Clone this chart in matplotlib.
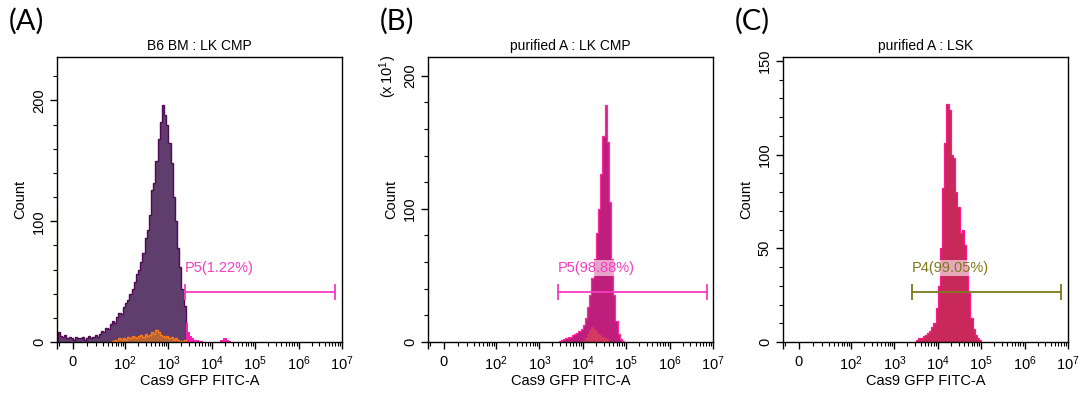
import matplotlib
matplotlib.use("Agg")
import matplotlib.pyplot as plt
import numpy as np

plt.rcParams['font.family'] = ['Liberation Sans', 'DejaVu Sans']
plt.rcParams['mathtext.fontset'] = 'custom'
plt.rcParams['mathtext.rm'] = 'Liberation Sans'

# histogram bins: start position (in decades on the biexponential axis), fixed step
STEP = 0.05

# panel A - B6 BM : LK CMP
a_main_start = 0.45
a_main = [8, 5, 4, 6, 3, 4, 3, 2, 4, 3, 3, 4, 2, 3, 5, 3, 4, 6, 4, 7,
          9, 8, 12, 11, 15, 17, 16, 21, 24, 23, 29, 32, 35, 40, 44, 50, 56, 60, 66, 74,
          86, 93, 105, 126, 132, 150, 168, 182, 196, 188, 180, 165, 148, 120, 100, 78, 62, 44, 30]
a_gate_start = 3.40
a_gate = [16, 8, 5, 3, 2, 2, 1, 1, 0, 0, 0, 0, 0, 0, 0, 0, 2, 3, 3, 2, 1]
a_orange_start = 1.70
a_orange = [1, 2, 1, 3, 2, 3, 2, 4, 3, 5, 4, 3, 5, 6, 4, 7, 5, 6, 8, 7,
            10, 8, 6, 5, 4, 5, 3, 4, 2, 3, 2, 1, 1, 2]
a_spike = 112

# panel B - purified A : LK CMP (counts x10)
b_main_start = 3.45
b_main = [1, 1.5, 2, 3, 3.5, 4, 5, 6, 7, 8, 10, 13, 18, 26, 35, 48, 62, 82, 100, 126,
          155, 178, 150, 105, 62, 35, 16, 6, 2, 0.5]
b_red_start = 4.00
b_red = [1, 3, 6, 9, 11, 10, 8, 6, 5, 4, 3, 2]

# panel C - purified A : LSK
c_main_start = 3.50
c_main = [1, 2, 2, 3, 4, 5, 6, 8, 10, 18, 30, 50, 82, 106, 127, 124, 100, 98, 80, 72,
          58, 60, 52, 40, 26, 13, 7, 4, 2, 1]

gates = {
    'A': ('P5(1.22%)', 3.38, 6.84, 41, '#f53cc0'),
    'B': ('P5(98.88%)', 3.43, 6.86, 37.6, '#f53cc0'),
    'C': ('P4(99.05%)', 3.41, 6.84, 26.7, '#7d7a1e'),
}
titles = {'A': 'B6 BM : LK CMP', 'B': 'purified A : LK CMP', 'C': 'purified A : LSK'}
ylims = {'A': (236, 100, 20), 'B': (214, 100, 20), 'C': (152, 50, 10)}

# biexponential-like display transform
W = 6.3
def fwd(v):
    return np.arcsinh(np.asarray(v, float) / (2 * W)) / np.log(10) + np.log10(W)

def inv(u):
    return 2 * W * np.sinh((np.asarray(u, float) - np.log10(W)) * np.log(10))

def edges(start, n):
    return inv(start + STEP * np.arange(n + 1))

XMIN = float(inv(0.433))
XMAX = 1e7

fig = plt.figure(figsize=(10.81, 3.94), dpi=100)
lefts = {'A': 57, 'B': 428, 'C': 783}
axes = {}
for key, left in lefts.items():
    ax = fig.add_axes([left / 1081, 1 - 342 / 394, 285 / 1081, 285 / 394])
    axes[key] = ax
    ax.set_xscale('function', functions=(fwd, inv))
    ax.set_xlim(XMIN, XMAX)
    ymax, major, minor = ylims[key]
    ax.set_ylim(0, ymax)
    ax.set_yticks(np.arange(0, ymax, major))
    ax.set_yticks(np.arange(0, ymax, minor), minor=True)
    ax.set_yticklabels([str(int(t)) for t in np.arange(0, ymax, major)], rotation=90, va='center')
    ticks = [XMIN, 0] + [10.0 ** k for k in range(2, 8)]
    labels = ['', '0'] + [r'$\mathregular{10^{%d}}$' % k for k in range(2, 8)]
    ax.set_xticks(ticks)
    ax.set_xticklabels(labels)
    minors = [-10] + list(range(10, 100, 10))
    for k in range(2, 7):
        minors += [m * 10.0 ** k for m in range(2, 10)]
    ax.set_xticks(minors, minor=True)
    ax.tick_params(axis='both', which='major', direction='out', length=5, width=1,
                   labelsize=10.5, pad=4)
    ax.tick_params(axis='both', which='minor', direction='out', length=3, width=0.8)
    ax.tick_params(axis='y', pad=3)
    ax.set_xlabel('Cas9 GFP FITC-A', fontsize=10.5, labelpad=1)
    ax.set_ylabel('Count', fontsize=10.5, labelpad=3)
    ax.set_title(titles[key], fontsize=10, pad=5)
    for s in ax.spines.values():
        s.set_linewidth(1)
    fig.text((left - 48) / 1081, 1 - 21 / 394, '(%s)' % key, fontsize=21,
             family='Lato', va='center', ha='left')

# panel A histograms
ax = axes['A']
e = edges(a_main_start, len(a_main))
ax.stairs(a_main, e, fill=True, color='#5f3d6d')
ax.stairs(a_main, e, color='#4e0a52', lw=1)
e = edges(a_gate_start, len(a_gate))
ax.stairs(a_gate, e, fill=True, color='#ff1fb4')
e = edges(a_orange_start, len(a_orange))
ax.stairs(a_orange, e, fill=True, color='#c26a2c', alpha=0.9)
ax.stairs(a_orange, e, color='#ff7a14', lw=1)
ax.vlines(XMIN, 0, a_spike, color='#ff7a14', lw=1.5)

# panel B histograms
ax = axes['B']
e = edges(b_main_start, len(b_main))
ax.stairs(b_main, e, fill=True, color='#bf1f7c')
ax.stairs(b_main, e, color='#ff2a9e', lw=0.9)
e = edges(b_red_start, len(b_red))
ax.stairs(b_red, e, fill=True, color='#d8405a', alpha=0.85)
ax.text(-0.14, 0.93, r'$\mathregular{(x\,10^{1})}$', transform=ax.transAxes, rotation=90,
        fontsize=10.5, ha='center', va='center')

# panel C histogram
ax = axes['C']
e = edges(c_main_start, len(c_main))
ax.stairs(c_main, e, fill=True, color='#c8285a')
ax.stairs(c_main, e, color='#ff1a8c', lw=0.9)

# gates
for key, (label, u0, u1, y, col) in gates.items():
    ax = axes[key]
    x0, x1 = inv(u0), inv(u1)
    ax.plot([x0, x1], [y, y], color=col, lw=1.3)
    ax.plot([x0, x1], [y, y], ls='none', marker='|', markersize=11, mew=1.3, color=col)
    ymax = ax.get_ylim()[1]
    bbox = None if key == 'A' else dict(facecolor='white', alpha=0.6, edgecolor='none', pad=0.5)
    ax.text(x0, y + 24 * ymax / 285, label, color=col, fontsize=10.5, ha='left',
            va='center', bbox=bbox)

fig.savefig('out.png', dpi=100)
